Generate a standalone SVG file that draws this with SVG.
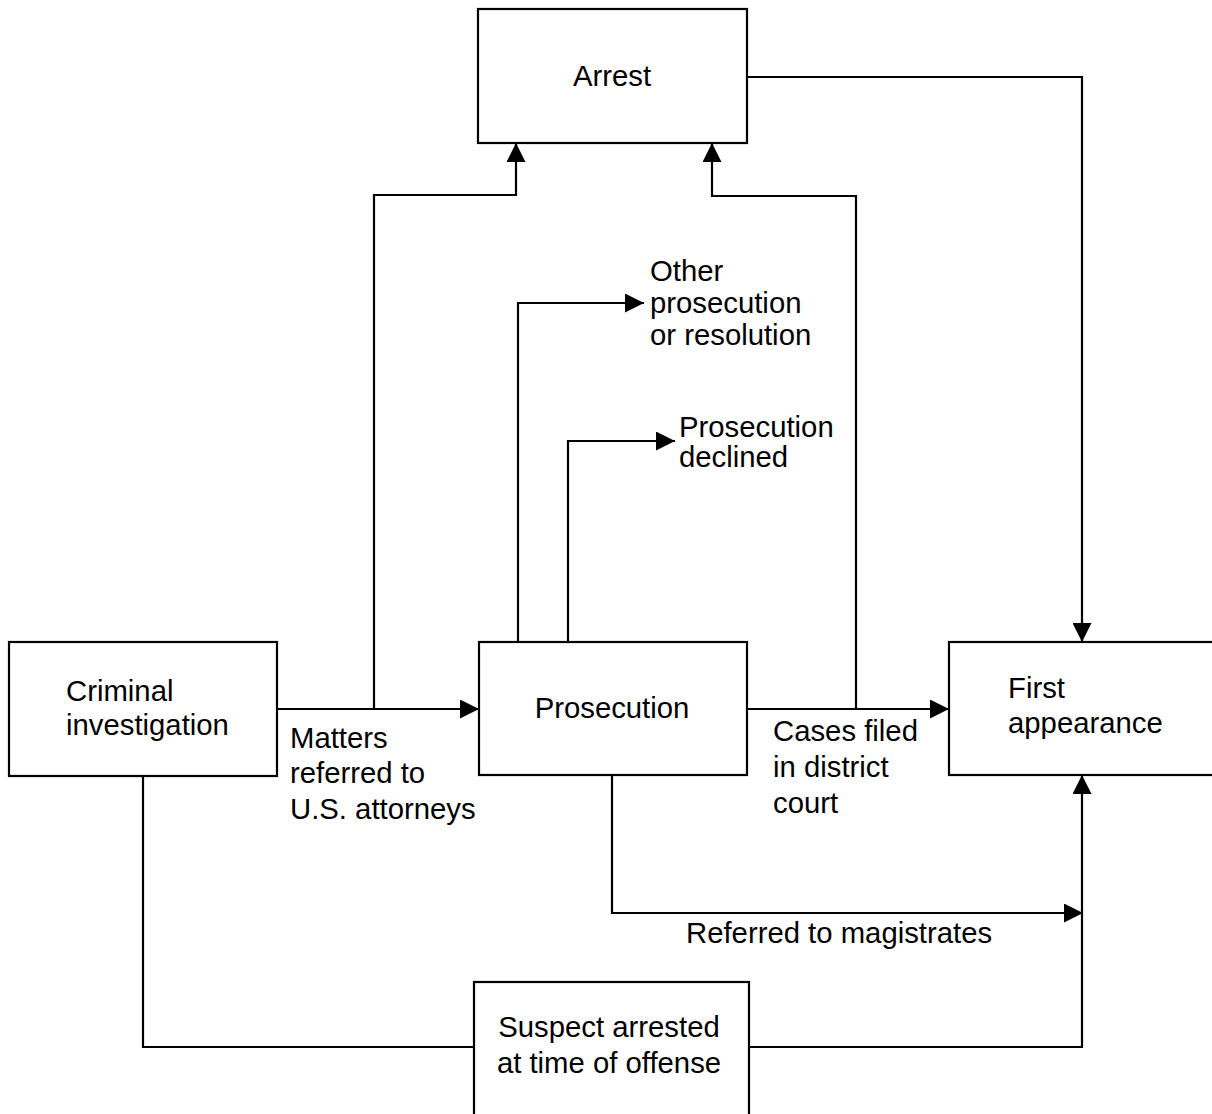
<svg xmlns="http://www.w3.org/2000/svg" width="1212" height="1114" viewBox="0 0 1212 1114">
<style>
.box{fill:#fff;stroke:#000;stroke-width:2.2}
.ln{fill:none;stroke:#000;stroke-width:2.2}
text{font-family:"Liberation Sans",Arial,sans-serif;font-size:29.3px;fill:#000}
.c{text-anchor:middle}
</style>
<defs>
<marker id="ah" markerUnits="userSpaceOnUse" markerWidth="19" markerHeight="19" refX="19" refY="9.5" orient="auto">
<path d="M0,0 L19,9.5 L0,19 z" fill="#000"/>
</marker>
</defs>
<rect width="1212" height="1114" fill="#fff"/>
<g id="connectors">
<path class="ln" d="M277,709 H479" marker-end="url(#ah)"/>
<path class="ln" d="M374,709 V195 H516 V143" marker-end="url(#ah)"/>
<path class="ln" d="M747,709 H949" marker-end="url(#ah)"/>
<path class="ln" d="M856,709 V196 H712 V143" marker-end="url(#ah)"/>
<path class="ln" d="M747,77 H1082 V642" marker-end="url(#ah)"/>
<path class="ln" d="M518,642 V303 H644" marker-end="url(#ah)"/>
<path class="ln" d="M568,642 V441 H675" marker-end="url(#ah)"/>
<path class="ln" d="M612,775 V913 H1083" marker-end="url(#ah)"/>
<path class="ln" d="M143,776 V1047 H474"/>
<path class="ln" d="M749,1047 H1082 V775" marker-end="url(#ah)"/>
<text x="290" y="748">Matters</text>
<text x="290" y="783">referred to</text>
<text x="290" y="819">U.S. attorneys</text>
<text x="773" y="741">Cases filed</text>
<text x="773" y="777">in district</text>
<text x="773" y="813">court</text>
<text x="686" y="943">Referred to magistrates</text>
</g>
<g id="arrest"><rect class="box" x="478" y="9" width="269" height="134"/><text class="c" x="612" y="86">Arrest</text></g>
<g id="criminal"><rect class="box" x="9" y="642" width="268" height="134"/><text x="66" y="701">Criminal</text><text x="66" y="735">investigation</text></g>
<g id="prosecution"><rect class="box" x="479" y="642" width="268" height="133"/><text class="c" x="612" y="718">Prosecution</text></g>
<g id="first"><rect class="box" x="949" y="642" width="275" height="133"/><text x="1008" y="698">First</text><text x="1008" y="733">appearance</text></g>
<g id="suspect"><rect class="box" x="474" y="982" width="275" height="140"/><text class="c" x="609" y="1037">Suspect arrested</text><text class="c" x="609" y="1073">at time of offense</text></g>
<g id="other"><text x="650" y="281">Other</text><text x="650" y="313">prosecution</text><text x="650" y="345">or resolution</text></g>
<g id="declined"><text x="679" y="437">Prosecution</text><text x="679" y="467">declined</text></g>
</svg>
